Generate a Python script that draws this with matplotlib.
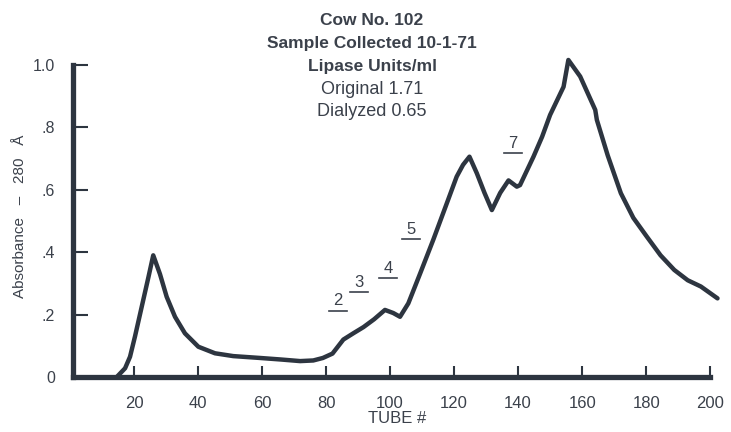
import matplotlib.pyplot as plt

# absorbance profile (tube number, absorbance at 280 A)
tube = [14.6, 17.2, 18.75, 20.3, 22.4, 24.5, 26.0, 28.1, 30.2, 32.8, 35.9, 40.1,
        45.3, 51.0, 59.4, 66.0, 71.9, 76.0, 79.0, 82.0, 85.4, 88.5, 91.7, 95.0,
        98.4, 101.0, 103.1, 105.7, 109.4, 113.5, 117.7, 120.8, 122.8, 124.8, 127.1,
        129.5, 131.8, 134.4, 137.0, 139.6, 140.6, 144.8, 147.5, 150.0, 154.2, 155.7,
        159.4, 164.1, 164.6, 168.0, 172.1, 176.0, 180.2, 184.5, 188.8, 193.0,
        197.1, 202.3]
absorb = [0.0, 0.028, 0.065, 0.13, 0.225, 0.32, 0.39, 0.33, 0.257, 0.193, 0.14, 0.097,
          0.076, 0.067, 0.061, 0.056, 0.051, 0.053, 0.061, 0.075, 0.12, 0.14, 0.16, 0.185,
          0.215, 0.205, 0.193, 0.236, 0.332, 0.44, 0.556, 0.642, 0.68, 0.706, 0.653,
          0.59, 0.535, 0.59, 0.63, 0.61, 0.615, 0.706, 0.77, 0.84, 0.93, 1.016,
          0.963, 0.856, 0.824, 0.71, 0.589, 0.51, 0.45, 0.39, 0.343, 0.31,
          0.29, 0.252]

# underlined fraction numbers
peak_labels = ["2", "3", "4", "5", "7"]
peak_x = [83.8, 90.3, 99.4, 106.6, 138.4]
peak_y = [0.22, 0.28, 0.325, 0.45, 0.725]

x_ticks = [20, 40, 60, 80, 100, 120, 140, 160, 180, 200]
y_ticks = [0, 0.2, 0.4, 0.6, 0.8, 1.0]
y_ticklabels = ["0", ".2", ".4", ".6", ".8", "1.0"]

header = ["Cow No. 102", "Sample Collected 10-1-71", "Lipase Units/ml",
          "Original 1.71", "Dialyzed 0.65"]

ink = "#2d3540"
txt = "#3b414b"
plt.rcParams['font.family'] = ['Liberation Sans', 'DejaVu Sans']

fig = plt.figure(figsize=(7.31, 4.32), dpi=100)
ax = fig.add_axes([0.0999, 0.1273, 0.888, 0.744])

ax.plot(tube, absorb, color=ink, lw=3.2, solid_joinstyle="round", solid_capstyle="round")

for lab, x, y in zip(peak_labels, peak_x, peak_y):
    ax.text(x, y, lab, color=txt, fontsize=12, ha="center", va="bottom")
    ax.plot([x - 2.8, x + 2.8], [y - 0.008, y - 0.008], color=txt, lw=1.2)

ax.set_xlim(0.94, 203.75)
ax.set_ylim(0, 1.03)
for side in ["top", "right"]:
    ax.spines[side].set_visible(False)
ax.spines["left"].set_bounds(0, 1.0)
ax.spines["bottom"].set_bounds(0.94, 200)
for side in ["left", "bottom"]:
    ax.spines[side].set_linewidth(3.8)
    ax.spines[side].set_color(ink)
    ax.spines[side].set_capstyle("projecting")

ax.set_xticks(x_ticks)
ax.set_xticklabels([str(t) for t in x_ticks])
ax.set_yticks(y_ticks)
ax.set_yticklabels(y_ticklabels)
ax.tick_params(axis="x", direction="in", length=8, width=1.5, color=ink,
               labelsize=12, labelcolor=txt, pad=14)
ax.tick_params(axis="y", direction="in", length=11, width=1.5, color=ink,
               labelsize=11.5, labelcolor=txt, pad=13)

ax.set_xlabel("TUBE #", fontsize=12, color=txt, labelpad=0)
ax.set_ylabel("Absorbance   \u2013   280   \u00c5", fontsize=11, color=txt,
              labelpad=4)

ys = [0.953, 0.900, 0.845, 0.792, 0.741]
for i, (line, y) in enumerate(zip(header, ys)):
    fig.text(0.509, y, line, ha="center", va="center",
             fontsize=12.5 if i < 3 else 13,
             color=txt, fontweight="bold" if i < 3 else "normal")

fig.savefig("out.png", dpi=100, facecolor="white")
